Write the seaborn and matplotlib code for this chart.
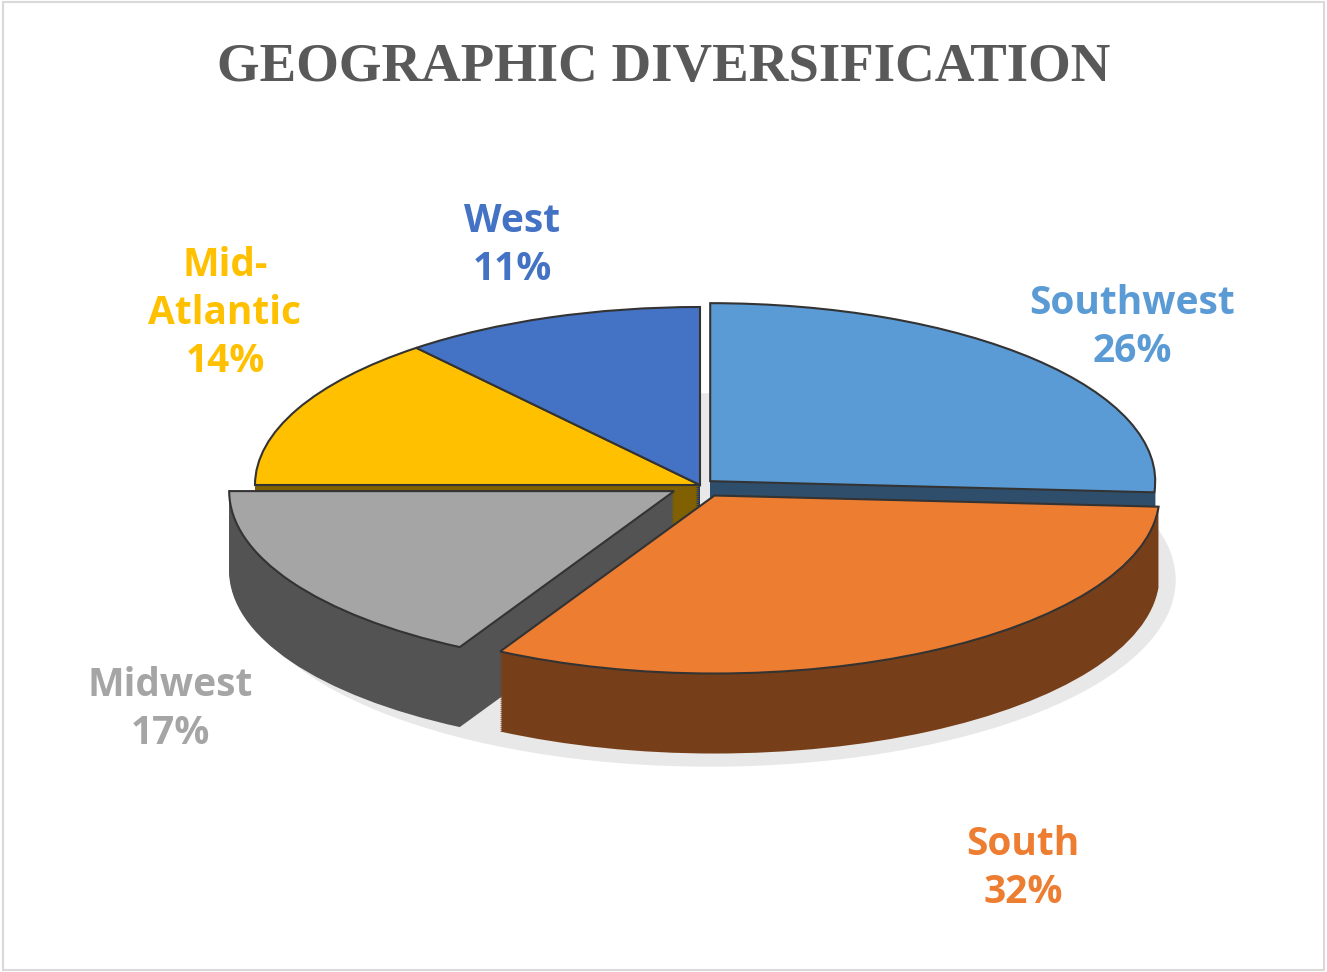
import seaborn as sns
import matplotlib.pyplot as plt
from matplotlib.patches import Ellipse
import matplotlib.colors as mc

regions = ['Southwest', 'South', 'Midwest', 'Mid-\nAtlantic', 'West']
shares = [26, 32, 17, 14, 11]
colors = ['#5B9BD5', '#ED7D31', '#A5A5A5', '#FFC000', '#4472C4']
label_xy = [(1132, 328), (1023, 868), (170, 710), (225, 313), (512, 245)]

sns.set_theme(style='white')
plt.rcParams['font.family'] = ['Open Sans', 'DejaVu Sans']

fig = plt.figure(figsize=(13.27, 9.72), dpi=100)
ax = fig.add_axes([0, 0, 1, 1])
sy = 0.4  # vertical squash
cx, cy = 700, (972 - 485) / sy
r = 445
depth = 80 / sy
explode = [14, 30, 30, 0, 0]  # data units (pie does not scale explode by radius)

# soft shadow
ax.add_patch(Ellipse((cx + 10, cy - depth - 15 / sy), 2 * r + 40, 2 * r + 40,
                     color='#e8e8e8', zorder=0))
dark = [tuple(c * 0.5 for c in mc.to_rgb(col)) for col in colors]
steps = 40
for i in range(steps):
    ax.pie(shares, colors=dark, startangle=90, counterclock=False,
           explode=explode, radius=r, center=(cx, cy - depth * (1 - i / steps)),
           wedgeprops=dict(linewidth=0), frame=True)
ax.pie(shares, colors=colors, startangle=90, counterclock=False, explode=explode,
       radius=r, center=(cx, cy), wedgeprops=dict(linewidth=1.5, edgecolor='#333333'),
       frame=True)
ax.set_aspect('auto')
ax.set_xlim(0, 1327)
ax.set_ylim(0, 972 / sy)
ax.axis('off')

for name, val, col, (x, y) in zip(regions, shares, colors, label_xy):
    fig.text(x / 1327, 1 - y / 972, f'{name}\n{val}%', color=col, fontsize=28,
             fontweight='bold', ha='center', va='center', linespacing=1.3)

fig.text(0.5, 1 - 68 / 972, 'GEOGRAPHIC DIVERSIFICATION', ha='center', va='center',
         fontsize=39.5, fontweight='bold', color='#595959', family='Liberation Serif')
fig.patches.append(plt.Rectangle((0.002, 0.002), 0.996, 0.996, transform=fig.transFigure,
                                 fill=False, edgecolor='#d9d9d9', linewidth=1.5))
fig.savefig('out.png', dpi=100)
